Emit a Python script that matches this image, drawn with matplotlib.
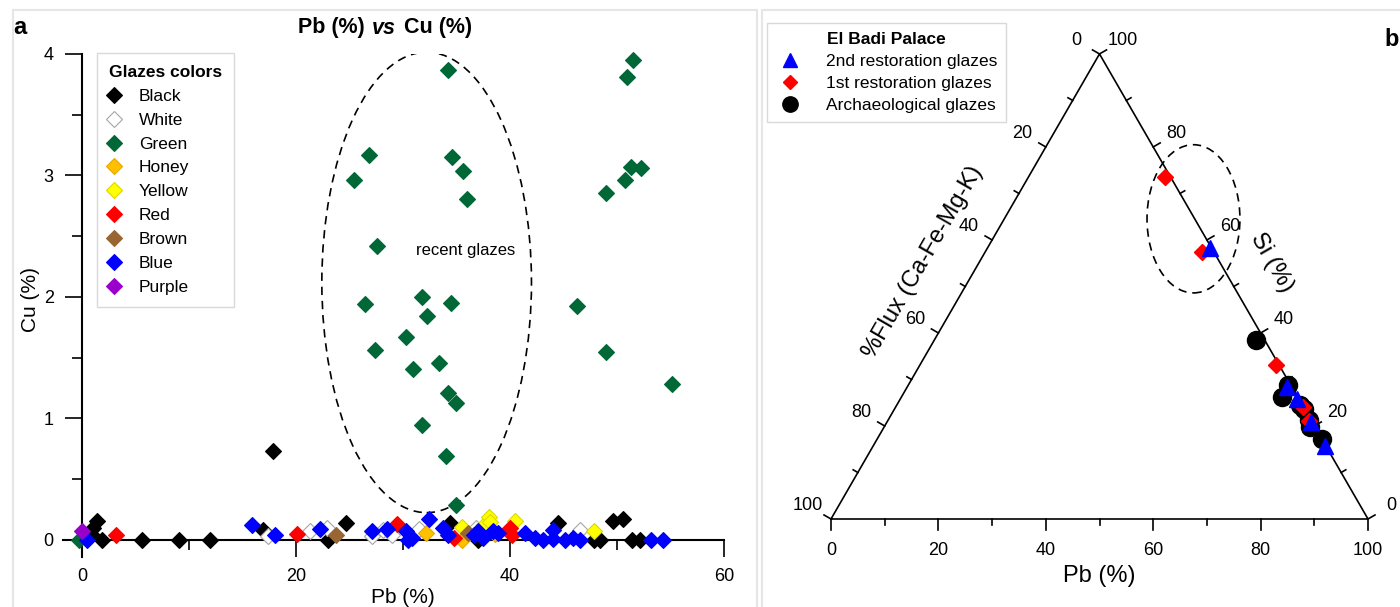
import numpy as np
import matplotlib
matplotlib.use('Agg')
import matplotlib.pyplot as plt
from matplotlib.patches import Ellipse, Rectangle
from matplotlib import font_manager

# ---------------- panel a : Pb (%) vs Cu (%) per glaze colour ----------------
black_pb = [0.8, 1.0, 1.4, 1.8, 5.6, 9.0, 11.9, 16.9, 17.8, 23.0, 24.7, 34.4, 37.0,
            44.5, 47.8, 48.4, 49.6, 50.6, 51.4, 52.1]
black_cu = [0.05, 0.10, 0.16, 0.0, 0.0, 0.0, 0.0, 0.08, 0.73, 0.0, 0.14, 0.14, 0.0,
            0.14, 0.0, 0.0, 0.16, 0.17, 0.0, 0.0]

white_pb = [17.4, 21.3, 22.9, 27.1, 28.1, 29.0, 31.5, 36.8, 46.5]
white_cu = [0.03, 0.07, 0.10, 0.03, 0.08, 0.04, 0.09, 0.10, 0.08]

green_pb = [-0.3, 34.2, 51.5, 50.9, 26.8, 25.4, 34.6, 35.6, 36.0, 51.3, 52.2, 50.7,
            49.0, 27.6, 26.4, 31.8, 34.5, 32.2, 46.3, 27.4, 30.3, 30.9, 33.4, 49.0,
            34.2, 34.9, 55.1, 31.8, 34.0, 34.9]
green_cu = [0.0, 3.87, 3.95, 3.81, 3.17, 2.96, 3.15, 3.04, 2.81, 3.07, 3.06, 2.96,
            2.86, 2.42, 1.94, 2.00, 1.95, 1.84, 1.93, 1.56, 1.67, 1.41, 1.46, 1.55,
            1.21, 1.13, 1.28, 0.95, 0.69, 0.29]

honey_pb = [32.1, 35.5, 38.6]
honey_cu = [0.06, 0.0, 0.05]

yellow_pb = [35.5, 37.6, 38.0, 38.1, 40.5, 47.8]
yellow_cu = [0.11, 0.12, 0.19, 0.15, 0.16, 0.07]

red_pb = [3.2, 20.1, 29.4, 34.8, 40.0, 40.2]
red_cu = [0.04, 0.05, 0.13, 0.02, 0.10, 0.04]

brown_pb = [23.7, 36.1]
brown_cu = [0.04, 0.06]

blue_pb = [0.4, 15.9, 18.0, 22.2, 27.1, 28.5, 30.3, 30.5, 30.8, 32.4, 33.7, 34.2,
           36.6, 37.0, 37.5, 38.4, 38.9, 41.4, 42.3, 43.1, 44.0, 44.0, 45.1, 45.9,
           46.5, 53.2, 54.3]
blue_cu = [0.0, 0.12, 0.04, 0.09, 0.07, 0.09, 0.07, 0.0, 0.02, 0.17, 0.10, 0.04,
           0.04, 0.07, 0.02, 0.07, 0.06, 0.06, 0.02, 0.0, 0.08, 0.01, 0.0, 0.02,
           0.0, 0.0, 0.0]

purple_pb = [0.0]
purple_cu = [0.07]

# ---------------- panel b : ternary Pb / Si / Flux ----------------
arch_pb = [59.9, 70.7, 70.8, 75.0, 76.3, 78.5, 79.3, 82.7]
arch_si = [38.5, 28.8, 26.2, 24.5, 23.6, 21.2, 19.8, 17.3]
arch_flux = [1.6, 0.5, 3.0, 0.5, 0.1, 0.3, 0.9, 0.0]

rest1_pb = [25.4, 40.4, 66.3, 75.9, 78.6]
rest1_si = [73.5, 57.4, 33.1, 24.0, 21.0]
rest1_flux = [1.1, 2.2, 0.6, 0.1, 0.4]

rest2_pb = [41.5, 70.7, 73.9, 79.0, 84.2]
rest2_si = [58.3, 28.4, 25.7, 20.8, 15.7]
rest2_flux = [0.2, 0.9, 0.4, 0.2, 0.1]

ternary_ticks = [0, 10, 20, 30, 40, 50, 60, 70, 80, 90, 100]

# fonts
names = {f.name for f in font_manager.fontManager.ttflist}
narrow = 'Liberation Sans Narrow' if 'Liberation Sans Narrow' in names else 'Liberation Sans'
plt.rcParams['font.family'] = ['Liberation Sans', 'DejaVu Sans']

W, H = 1400, 607
fig = plt.figure(figsize=(14, 6.07), dpi=100)


def fx(px):
    return px / W


def fy(py):
    return 1 - py / H


# light panel frames
fig.patches.append(Rectangle((fx(13), -0.01), fx(757) - fx(13), fy(10) + 0.01,
                             transform=fig.transFigure, fill=False,
                             edgecolor='#e6e6e6', lw=1.5))
fig.patches.append(Rectangle((fx(762), -0.01), 1.0, fy(10) + 0.01,
                             transform=fig.transFigure, fill=False,
                             edgecolor='#e6e6e6', lw=1.5))

# ---------------- panel a ----------------
ax = fig.add_axes([fx(63), fy(557), fx(724) - fx(63), fy(54) - fy(557)])
ax.set_xlim(-1.8, 60)
ax.set_ylim(-0.14, 4.0)

groups = [
    ('Black', black_pb, black_cu, '#000000', '#000000'),
    ('White', white_pb, white_cu, '#ffffff', '#a6a6a6'),
    ('Green', green_pb, green_cu, '#006837', '#006837'),
    ('Honey', honey_pb, honey_cu, '#ffc000', '#e6a800'),
    ('Yellow', yellow_pb, yellow_cu, '#ffff00', '#d9d900'),
    ('Red', red_pb, red_cu, '#ff0000', '#ff0000'),
    ('Brown', brown_pb, brown_cu, '#996633', '#996633'),
    ('Blue', blue_pb, blue_cu, '#0000ff', '#0000ff'),
    ('Purple', purple_pb, purple_cu, '#9900cc', '#9900cc'),
]
for name, xs, ys, fc, ec in groups:
    ax.plot(xs, ys, 'D', ms=8.5, mfc=fc, mec=ec, mew=0.8, label=name,
            clip_on=False, zorder=3)

ax.add_patch(Ellipse((32.2, 2.12), 19.6, 3.79, fill=False, ls=(0, (5, 3.5)),
                     lw=1.2, color='black'))
ax.text(35.8, 2.38, 'recent glazes', fontsize=12, ha='center', va='center')

for s in ['top', 'right']:
    ax.spines[s].set_visible(False)
ax.spines['left'].set_position(('data', 0))
ax.spines['bottom'].set_position(('data', 0))
ax.spines['left'].set_linewidth(1.5)
ax.spines['bottom'].set_linewidth(1.5)
ax.set_xticks([0, 20, 40, 60])
ax.set_xticks([10, 30, 50], minor=True)
ax.set_yticks([0, 1, 2, 3, 4])
ax.set_yticks([0.5, 1.5, 2.5, 3.5], minor=True)
ax.tick_params(which='major', length=12.5, width=1.2, labelsize=13, pad=8)
ax.tick_params(which='minor', length=7, width=1.2)
ax.set_xlabel('Pb (%)', fontsize=15)
ax.set_ylabel('Cu (%)', fontsize=15)
ax.xaxis.set_label_coords((403 - 63) / 661, (557 - 588) / 503)
ax.yaxis.set_label_coords((40 - 63) / 661, (557 - 300) / 503)

leg = ax.legend(loc='upper left', bbox_to_anchor=(fx(97), fy(53)),
                bbox_transform=fig.transFigure, borderaxespad=0,
                fontsize=12.5, title='Glazes colors',
                title_fontproperties={'weight': 'bold', 'size': 12.5},
                frameon=True, fancybox=False, edgecolor='#d9d9d9',
                framealpha=1, handlelength=0.6, handletextpad=1.1,
                labelspacing=0.5, borderpad=0.7, numpoints=1)
leg.get_frame().set_linewidth(1.0)
leg._legend_box.align = 'left'

fig.text(fx(20), fy(27), 'a', fontsize=17, weight='bold', ha='center', va='center')
fig.text(fx(371), fy(28), 'Pb (%) ', fontsize=15.5, weight='bold', ha='right', va='center')
fig.text(fx(372), fy(28), 'vs', fontsize=15.5, weight='bold', style='italic',
         ha='left', va='center')
fig.text(fx(398), fy(28), ' Cu (%)', fontsize=15.5, weight='bold', ha='left', va='center')

# ---------------- panel b : ternary ----------------
s = 5.37
tx = fig.add_axes([fx(762), fy(607), fx(1400) - fx(762), fy(10) - fy(607)])
tx.set_xlim((762 - 831) / s, (1400 - 831) / s)
tx.set_ylim((519 - 607) / s, (519 - 10) / s)
tx.axis('off')

h = np.sqrt(3) / 2


def tern(pb, si):
    pb = np.asarray(pb, float)
    si = np.asarray(si, float)
    return pb + si / 2, si * h


# triangle outline
tx.plot([0, 100, 50, 0], [0, 0, 100 * h, 0], color='black', lw=1.2,
        solid_joinstyle='miter')

n_left = np.array([-h, 0.5])
n_right = np.array([h, 0.5])
for v in ternary_ticks:
    major = v % 20 == 0
    L = 2.0 if major else 1.1
    # Pb axis (bottom)
    tx.plot([v, v], [0, -L], color='black', lw=1.2)
    if major:
        tx.text(v, -5.8, str(v), fontsize=13, family=narrow, ha='center', va='center')
    # Flux axis (left edge, Pb = 0)
    p = np.array(tern(0, 100 - v), float)
    Ls = 1.5 if major else 1.0
    q = p + Ls * n_left
    tx.plot([p[0], q[0]], [p[1], q[1]], color='black', lw=1.2)
    if major:
        t = p + 5.0 * n_left
        tx.text(t[0], t[1], str(v), fontsize=13, family=narrow, ha='center', va='center')
    # Si axis (right edge, Flux = 0)
    p = np.array(tern(100 - v, v), float)
    q = p + Ls * n_right
    tx.plot([p[0], q[0]], [p[1], q[1]], color='black', lw=1.2)
    if major:
        t = p + 5.0 * n_right
        tx.text(t[0], t[1], str(v), fontsize=13, family=narrow, ha='center', va='center')

tx.text(50, -10.6, 'Pb (%)', fontsize=17, family=narrow, ha='center', va='center')
tx.text(82.1, 47.7, 'Si (%)', fontsize=17, family=narrow, rotation=-60,
        ha='center', va='center', rotation_mode='anchor')
tx.text(17.1, 47.9, '%Flux (Ca-Fe-Mg-K)', fontsize=17, family=narrow, rotation=60,
        ha='center', va='center', rotation_mode='anchor')

tx.add_patch(Ellipse((67.5, 55.9), 17.3, 27.6, fill=False, ls=(0, (5, 3.5)),
                     lw=1.2, color='black'))

x, y = tern(arch_pb, arch_si)
h_arch, = tx.plot(x, y, 'o', ms=13, color='black', label='Archaeological glazes')
x, y = tern(rest1_pb, rest1_si)
h_r1, = tx.plot(x, y, 'D', ms=8.5, color='#ff0000', label='1st restoration glazes')
x, y = tern(rest2_pb, rest2_si)
h_r2, = tx.plot(x, y, '^', ms=12, color='#0000ff', label='2nd restoration glazes')

leg2 = tx.legend(handles=[h_r2, h_r1, h_arch], loc='upper left',
                 bbox_to_anchor=(fx(767), fy(23)), bbox_transform=fig.transFigure,
                 borderaxespad=0, prop={'family': narrow, 'size': 12.5},
                 title='El Badi Palace',
                 title_fontproperties={'family': narrow, 'weight': 'bold', 'size': 12.5},
                 frameon=True, fancybox=False, edgecolor='#d9d9d9', framealpha=1,
                 handlelength=1.7, handletextpad=1.2, labelspacing=0.4,
                 borderpad=0.5, numpoints=1, markerscale=0.85)
leg2.get_frame().set_linewidth(1.0)

fig.text(fx(1392), fy(40), 'b', fontsize=17, weight='bold', ha='center', va='center')

fig.savefig('out.png', dpi=100)
